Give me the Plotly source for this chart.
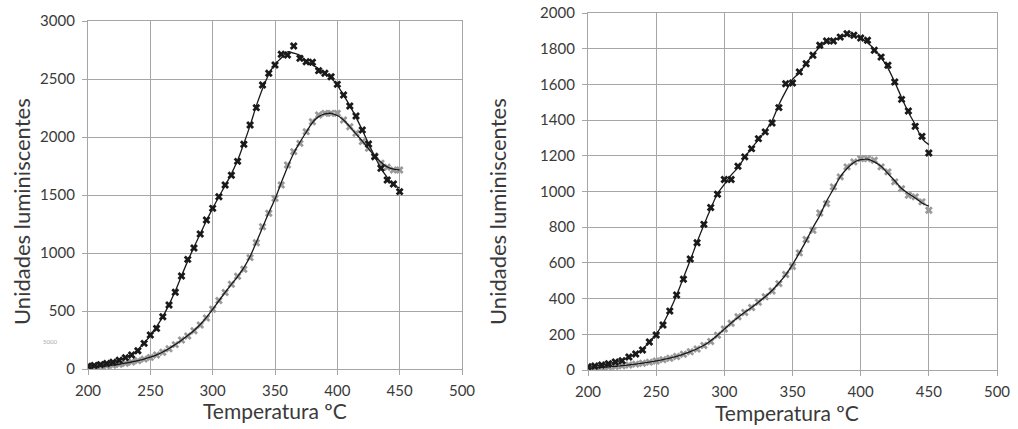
import plotly.graph_objects as go

temp = list(range(200, 455, 5))

# Left panel
left_black = [25, 30, 38, 48, 58, 75, 98, 121, 158, 221,
              293, 350, 451, 552, 661, 802, 945, 1043, 1164, 1284,
              1385, 1485, 1586, 1670, 1790, 1937, 2104, 2253, 2448, 2549,
              2621, 2713, 2707, 2784, 2678, 2649, 2644, 2572, 2549, 2520,
              2454, 2362, 2267, 2181, 2060, 1940, 1830, 1730, 1629, 1595,
              1529]
left_grey = [15, 18, 22, 27, 33, 40, 50, 60, 72, 85,
             100, 120, 145, 175, 210, 250, 285, 330, 380, 440,
             515, 590, 660, 730, 800, 860, 960, 1089, 1227, 1342,
             1471, 1586, 1759, 1874, 1945, 2046, 2132, 2190, 2204, 2204,
             2204, 2147, 2089, 2032, 1960, 1902, 1836, 1773, 1739, 1716,
             1716]

# Right panel
right_black = [18, 22, 28, 35, 45, 52, 73, 90, 112, 157,
               196, 252, 330, 420, 508, 622, 713, 816, 910, 985,
               1067, 1067, 1141, 1194, 1240, 1296, 1334, 1384, 1470, 1604,
               1608, 1670, 1716, 1763, 1819, 1843, 1843, 1865, 1884, 1875,
               1860, 1847, 1791, 1753, 1707, 1613, 1516, 1451, 1365, 1309,
               1216]
right_grey = [10, 12, 14, 17, 20, 24, 28, 33, 38, 44,
              50, 58, 66, 76, 88, 102, 118, 137, 160, 195,
              230, 262, 298, 322, 350, 380, 410, 443, 484, 535,
              580, 656, 731, 783, 880, 932, 1026, 1082, 1138, 1166,
              1184, 1184, 1175, 1138, 1110, 1054, 1016, 979, 970, 942,
              895]

x_ticks = [200, 250, 300, 350, 400, 450, 500]
left_y_ticks = [0, 500, 1000, 1500, 2000, 2500, 3000]
right_y_ticks = list(range(0, 2200, 200))

FONT = "Lato"
TXT = "#3a3a3a"
GRID = "#a6a6a6"
BLACK = "#1a1a1a"
GREY = "#9a9a9a"

W, H = 1018, 429


def px_x(p):
    return p / W


def px_y(p):
    return 1 - p / H


def moving_avg(vals):
    out = []
    n = len(vals)
    for i in range(n):
        lo, hi = max(0, i - 1), min(n, i + 2)
        seg = vals[lo:hi]
        out.append(sum(seg) / len(seg))
    return out


fig = go.Figure()


def add_series(y, color, xa, ya):
    fig.add_trace(go.Scatter(x=temp, y=y, mode="markers",
                             marker=dict(symbol="x", size=7, color=color,
                                         line=dict(width=0)),
                             xaxis=xa, yaxis=ya, showlegend=False))
    fig.add_trace(go.Scatter(x=temp, y=moving_avg(y), mode="lines",
                             line=dict(color=BLACK, width=1.3, shape="spline", smoothing=1.0),
                             xaxis=xa, yaxis=ya, hoverinfo="skip", showlegend=False))


add_series(left_grey, GREY, "x", "y")
add_series(left_black, BLACK, "x", "y")
add_series(right_grey, GREY, "x2", "y2")
add_series(right_black, BLACK, "x2", "y2")

axis_common = dict(showgrid=True, gridcolor=GRID, gridwidth=1.2,
                   showline=True, linecolor=GRID, linewidth=1.2, mirror=True,
                   ticks="outside", ticklen=5, tickcolor=GRID, tickwidth=1.2,
                   zeroline=False, automargin=False, ticklabeloverflow="allow",
                   tickfont=dict(family=FONT, size=15, color=TXT))

fig.update_layout(
    width=W, height=H,
    margin=dict(l=0, r=0, t=0, b=0, autoexpand=False),
    paper_bgcolor="white", plot_bgcolor="white",
    xaxis=dict(domain=[px_x(88), px_x(462)], range=[200, 500], tickvals=x_ticks,
               anchor="y", ticklabelstandoff=3, **axis_common),
    yaxis=dict(domain=[px_y(369), px_y(21)], range=[0, 3000],
               tickvals=left_y_ticks, anchor="x", ticklabelstandoff=4, **axis_common),
    xaxis2=dict(domain=[px_x(588), px_x(997)], range=[200, 500], tickvals=x_ticks,
                anchor="y2", ticklabelstandoff=3, **axis_common),
    yaxis2=dict(domain=[px_y(370), px_y(13)], range=[0, 2000],
                tickvals=right_y_ticks, anchor="x2", ticklabelstandoff=4, **axis_common),
)

annots = [
    dict(text="Unidades luminiscentes", x=px_x(22), y=px_y(212), textangle=-90,
         font=dict(family=FONT, size=22, color=TXT)),
    dict(text="Unidades luminiscentes", x=px_x(498), y=px_y(212), textangle=-90,
         font=dict(family=FONT, size=22, color=TXT)),
    dict(text="Temperatura ºC", x=px_x(275), y=px_y(410),
         font=dict(family=FONT, size=21, color=TXT)),
    dict(text="Temperatura ºC", x=px_x(787), y=px_y(412),
         font=dict(family=FONT, size=21, color=TXT)),
    dict(text="5000", x=px_x(50), y=px_y(341),
         font=dict(family=FONT, size=6, color="#aaaaaa")),
]
for a in annots:
    fig.add_annotation(xref="paper", yref="paper", showarrow=False,
                       xanchor="center", yanchor="middle", **a)

fig.write_html("out.html", config={"displayModeBar": False},
               post_script="document.body.style.margin='0';document.body.style.overflow='hidden';")
